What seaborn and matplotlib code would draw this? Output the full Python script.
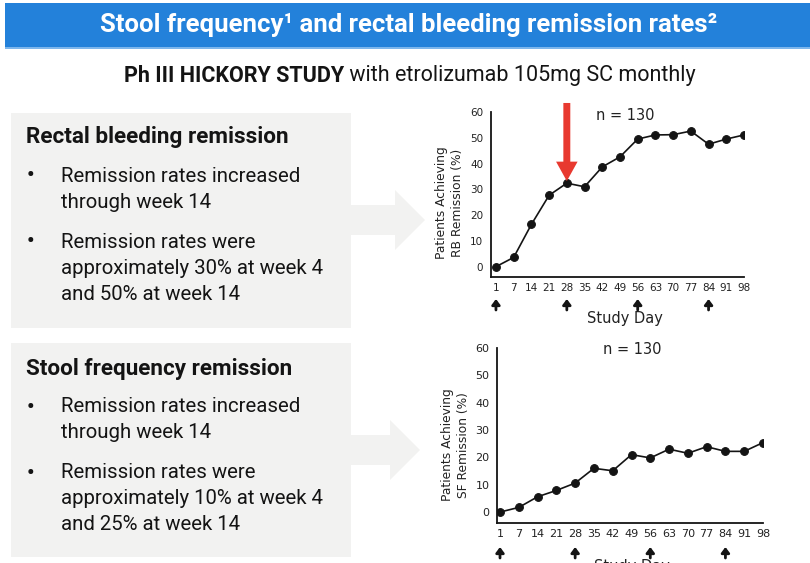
import matplotlib
matplotlib.use("Agg")
import matplotlib.pyplot as plt
import matplotlib.transforms as mtransforms
import seaborn as sns
import pandas as pd
from matplotlib.patches import Rectangle, Polygon

# ---------------- data ----------------
study_days = ["1", "7", "14", "21", "28", "35", "42", "49", "56", "63", "70", "77", "84", "91", "98"]
rb_remission = [0.0, 3.6, 16.4, 27.7, 32.4, 31.0, 38.7, 42.6, 49.5, 51.1, 51.2, 52.6, 47.5, 49.5, 51.1]
sf_remission = [0.0, 1.7, 5.6, 7.9, 10.6, 16.0, 15.1, 21.0, 19.8, 23.0, 21.5, 23.9, 22.2, 22.2, 25.4]
dose_days = ["1", "28", "56", "84"]
y_ticks = [0, 10, 20, 30, 40, 50, 60]
highlight_day = "28"

title = "Stool frequency\u00b9 and rectal bleeding remission rates\u00b2"
subtitle_bold = "Ph III HICKORY STUDY"
subtitle_rest = " with etrolizumab 105mg SC monthly"
rb_heading = "Rectal bleeding remission"
rb_bullets = [["Remission rates increased", "through week 14"],
              ["Remission rates were", "approximately 30% at week 4", "and 50% at week 14"]]
sf_heading = "Stool frequency remission"
sf_bullets = [["Remission rates increased", "through week 14"],
              ["Remission rates were", "approximately 10% at week 4", "and 25% at week 14"]]

sns.set_theme(style="white")
plt.rcParams["font.family"] = ["DejaVu Sans"]

W, H = 810, 563
fig = plt.figure(figsize=(W / 100, H / 100), dpi=100)
fig.patch.set_facecolor("white")

# background axes in pixel coordinates
bg = fig.add_axes([0, 0, 1, 1])
bg.set_xlim(0, W)
bg.set_ylim(H, 0)
bg.axis("off")

BLUE = "#2381DA"
GREY = "#F2F2F1"
RED = "#E8392F"
INK = "#141414"

bg.add_patch(Rectangle((5, 3), 805, 44, facecolor=BLUE, edgecolor="none"))
bg.add_patch(Rectangle((5, 47), 805, 1.5, facecolor="#7DB6EC", edgecolor="none"))

cond = ["Roboto", "DejaVu Sans"]
bg.text(409, 25, title, color="white", fontsize=18.5, fontweight="bold",
        family=cond, ha="center", va="center")

# subtitle: bold + regular pieces, centred together
t1 = bg.text(0, 76, subtitle_bold, color=INK, fontsize=15.5, fontweight="bold",
             family=cond, ha="left", va="center")
t2 = bg.text(0, 76, subtitle_rest, color=INK, fontsize=15.5, family=cond,
             ha="left", va="center")
fig.canvas.draw()
r = fig.canvas.get_renderer()
w1 = t1.get_window_extent(r).width
w2 = t2.get_window_extent(r).width
x0 = 410 - (w1 + w2) / 2
t1.set_x(x0)
t2.set_x(x0 + w1)

body = ["Roboto", "DejaVu Sans"]


def text_box(y_top, y_bot, heading, head_y, bullets, line_ys, arrow_y, arrow_half, head_half, head_x0, tip_x):
    bg.add_patch(Rectangle((11, y_top), 340, y_bot - y_top, facecolor=GREY, edgecolor="none"))
    bg.add_patch(Polygon([(351, arrow_y - arrow_half), (head_x0, arrow_y - arrow_half),
                          (head_x0, arrow_y - head_half), (tip_x, arrow_y),
                          (head_x0, arrow_y + head_half), (head_x0, arrow_y + arrow_half),
                          (351, arrow_y + arrow_half)], closed=True, facecolor=GREY, edgecolor="none"))
    bg.text(26, head_y, heading, fontsize=16.2, fontweight="bold", family=body,
            color=INK, ha="left", va="center_baseline")
    k = 0
    for lines in bullets:
        bg.text(27, line_ys[k], "\u2022", fontsize=15, fontweight="bold", family=body, color=INK,
                ha="left", va="center_baseline")
        for ln in lines:
            bg.text(61, line_ys[k], ln, fontsize=14.7, family=body, color=INK,
                    ha="left", va="center_baseline")
            k += 1


text_box(113, 328, rb_heading, 135, rb_bullets, [174, 200, 240, 267, 293], 220, 15, 30, 395, 425)
text_box(343, 557, sf_heading, 366, sf_bullets, [405, 431, 471, 497, 523], 450, 15, 30, 390, 420)


def make_chart(box, values, xlim, ylabel, label_xy, tick_fs, n_xy, day_xy, arrow_span):
    l, t, r_, b = box
    ax = fig.add_axes([l / W, 1 - b / H, (r_ - l) / W, (b - t) / H])
    ax.patch.set_alpha(0)
    df = pd.DataFrame({"day": study_days, "value": values})
    sns.lineplot(data=df, x="day", y="value", marker="o", markersize=5.6,
                 color=INK, linewidth=1.2, markeredgecolor=INK, ax=ax, sort=False)
    ax.set_xlim(*xlim)
    ax.set_ylim(-4, 60)
    ax.set_yticks(y_ticks)
    ax.set_xticks(range(len(study_days)))
    ax.set_xticklabels(study_days)
    for s in ["top", "right"]:
        ax.spines[s].set_visible(False)
    for s in ["left", "bottom"]:
        ax.spines[s].set_color(INK)
        ax.spines[s].set_linewidth(1.3)
    ax.tick_params(axis="y", length=2.5, width=1, color=INK, pad=3, labelsize=tick_fs, labelcolor="#222")
    ax.tick_params(axis="x", length=2, width=1, color=INK, pad=2, labelsize=tick_fs, labelcolor="#222")
    ax.set_xlabel("")
    ax.set_ylabel(ylabel, fontsize=8.8, color="#222", linespacing=1.3)
    ax.yaxis.set_label_coords(*label_xy)
    ax.grid(False)
    bg.text(n_xy[0], n_xy[1], "n = 130", fontsize=10.5, color="#222", ha="center", va="center")
    bg.text(day_xy[0], day_xy[1], "Study Day", fontsize=10.5, color="#222", ha="center", va="center")
    # dosing arrows below the axis
    trans = mtransforms.blended_transform_factory(ax.transData, ax.transAxes)
    y_top = -(arrow_span[0] - b) / (b - t)
    y_bot = -(arrow_span[1] - b) / (b - t)
    for d in dose_days:
        xi = study_days.index(d)
        ax.annotate("", xy=(xi, y_top), xycoords=trans, xytext=(xi, y_bot), textcoords=trans,
                    arrowprops=dict(arrowstyle="-|>,head_length=0.32,head_width=0.24",
                                    mutation_scale=10, lw=2.0, color=INK,
                                    shrinkA=0, shrinkB=0),
                    annotation_clip=False)
    return ax


ax1 = make_chart((491, 112, 744, 277), rb_remission, (-0.28, 14.0),
                 "Patients Achieving\nRB Remission (%)", (-0.105, 0.45), 7.5,
                 (625, 115), (625, 318), (299, 310))
ax2 = make_chart((497, 348, 763, 523), sf_remission, (-0.16, 14.0),
                 "Patients Achieving\nSF Remission (%)", (-0.10, 0.446), 8,
                 (632, 350), (632, 567), (547, 558))

# red highlight arrow at week 4 (day 28)
hi = study_days.index(highlight_day)
ax1.annotate("", xy=(hi, rb_remission[hi] + 0.8), xycoords="data",
             xytext=(hi, 63.5), textcoords="data",
             arrowprops=dict(arrowstyle="simple,head_length=14,head_width=15.5,tail_width=5",
                             mutation_scale=1, color=RED, shrinkA=0, shrinkB=0, lw=0),
             annotation_clip=False)

fig.savefig("out.png", dpi=100)
